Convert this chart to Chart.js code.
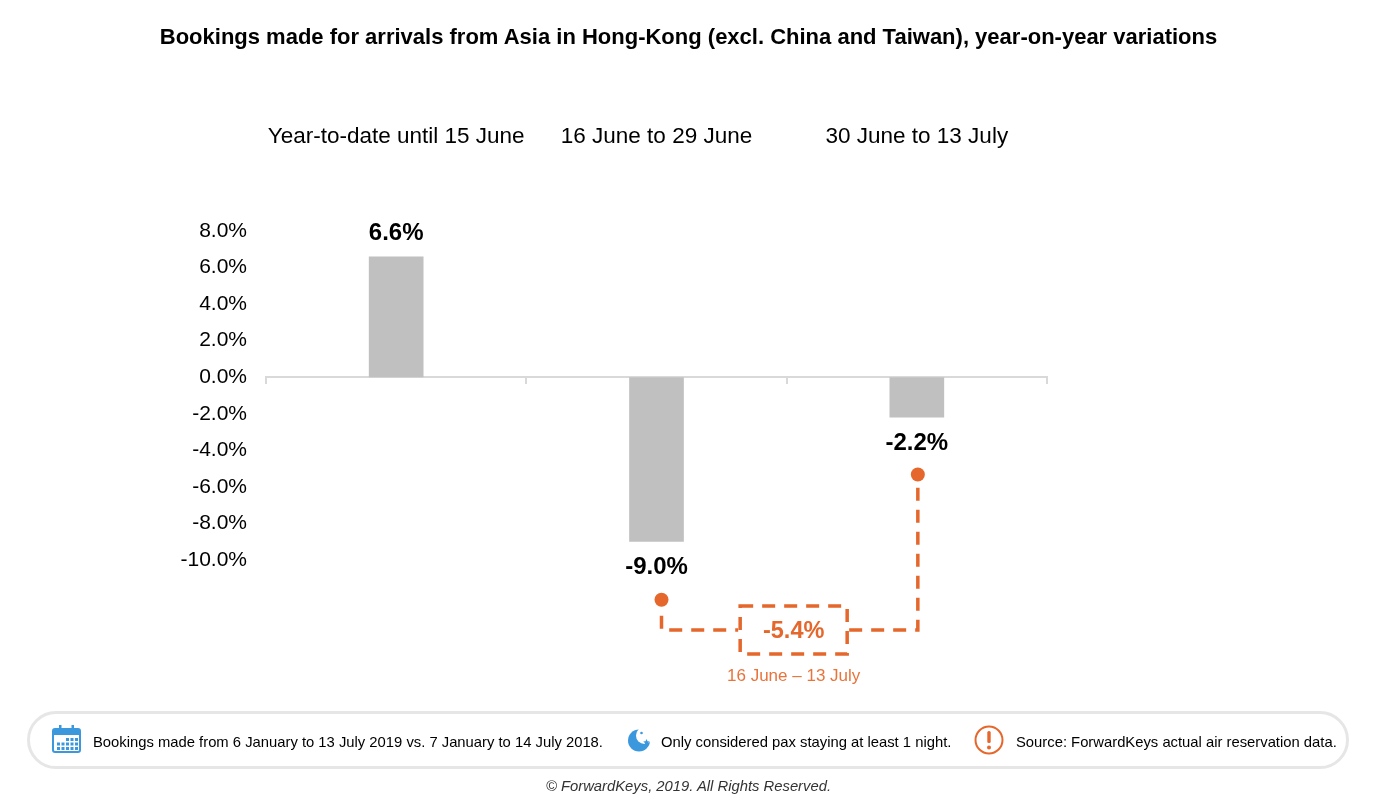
<!DOCTYPE html>
<html>
<head>
<meta charset="utf-8">
<script src="https://cdn.jsdelivr.net/npm/chart.js@4.4.1/dist/chart.umd.min.js"></script>
<style>
  html, body { margin: 0; padding: 0; background: #fff; }
  body { width: 1377px; height: 806px; position: relative; overflow: hidden; font-family: "Liberation Sans", Arial, sans-serif; }
  #chart { position: absolute; left: 0; top: 0; }
  .title { position: absolute; left: 0; width: 1377px; top: 24px; text-align: center; font-weight: bold; font-size: 22px; line-height: 26px; color: #000; }
  .head { position: absolute; top: 122px; font-size: 22.5px; line-height: 28px; color: #000; transform: translateX(-50%); white-space: nowrap; }
  .pill { position: absolute; left: 27px; top: 711px; width: 1316px; height: 52px; border: 3px solid #e6e6e6; border-radius: 30px; }
  .note { position: absolute; top: 733px; font-size: 14.8px; line-height: 18px; color: #000; white-space: nowrap; }
  .icon { position: absolute; }
  .copy { position: absolute; left: 0; width: 1377px; top: 777px; text-align: center; font-style: italic; font-size: 14.8px; line-height: 18px; color: #333; }
</style>
</head>
<body>
<canvas id="chart" width="1377" height="806"></canvas>
<div class="title">Bookings made for arrivals from Asia in Hong-Kong (excl. China and Taiwan), year-on-year variations</div>
<div id="heads"></div>

<div class="pill"></div>
<svg class="icon" style="left:52px;top:725px" width="29" height="28" viewBox="0 0 29 28">
  <rect x="1" y="4" width="27" height="23" rx="2" fill="#fff" stroke="#3b98dd" stroke-width="2"/>
  <rect x="1" y="4" width="27" height="6" fill="#3b98dd"/>
  <rect x="7" y="0" width="2.5" height="8" fill="#3b98dd"/>
  <rect x="19.5" y="0" width="2.5" height="8" fill="#3b98dd"/>
  <g fill="#3b98dd">
    <rect x="14" y="13" width="3" height="3"/><rect x="18.5" y="13" width="3" height="3"/><rect x="23" y="13" width="3" height="3"/>
    <rect x="5" y="17.5" width="3" height="3"/><rect x="9.5" y="17.5" width="3" height="3"/><rect x="14" y="17.5" width="3" height="3"/><rect x="18.5" y="17.5" width="3" height="3"/><rect x="23" y="17.5" width="3" height="3"/>
    <rect x="5" y="22" width="3" height="3"/><rect x="9.5" y="22" width="3" height="3"/><rect x="14" y="22" width="3" height="3"/><rect x="18.5" y="22" width="3" height="3"/><rect x="23" y="22" width="3" height="3"/>
  </g>
</svg>
<div class="note" style="left:93px">Bookings made from 6 January to 13 July 2019 vs. 7 January to 14 July 2018.</div>
<svg class="icon" style="left:627px;top:727px" width="26" height="26" viewBox="0 0 26 26">
  <circle cx="12" cy="13.5" r="11" fill="#3b98dd"/>
  <circle cx="17.5" cy="8.5" r="8.5" fill="#fff"/>
  <path d="M19.5 12 l1 2.2 2.3 .2 -1.8 1.5 .6 2.3 -2.1 -1.3 -2.1 1.3 .6 -2.3 -1.8 -1.5 2.3 -.2 Z" fill="#3b98dd"/>
  <circle cx="14.5" cy="6" r="1.3" fill="#3b98dd"/>
</svg>
<div class="note" style="left:661px">Only considered pax staying at least 1 night.</div>
<svg class="icon" style="left:974px;top:725px" width="30" height="30" viewBox="0 0 30 30">
  <circle cx="15" cy="15" r="13.5" fill="none" stroke="#e5672b" stroke-width="2"/>
  <rect x="13.3" y="6" width="3.4" height="12" rx="1.5" fill="#e5672b"/>
  <circle cx="15" cy="22.5" r="2" fill="#e5672b"/>
</svg>
<div class="note" style="left:1016px">Source: ForwardKeys actual air reservation data.</div>
<div class="copy">© ForwardKeys, 2019. All Rights Reserved.</div>

<script>
// chart values
const periods = ["Year-to-date until 15 June", "16 June to 29 June", "30 June to 13 July"];
const variations = [6.6, -9.0, -2.2];
const combinedValue = -5.4;
const combinedPeriod = "16 June \u2013 13 July";
const combinedFrom = 1;   // index of the periods joined by the dashed bracket
const combinedTo = 2;
const yMin = -10;
const yMax = 8;
const yStep = 2;

const orange = "#e5672b";

function pct(v) {
  return v.toFixed(1) + "%";
}

// category headers above the chart, centred on each category
const headsPlugin = {
  id: "heads",
  afterLayout(chart) {
    const box = document.getElementById("heads");
    box.innerHTML = "";
    const x = chart.scales.x;
    periods.forEach((p, i) => {
      const d = document.createElement("div");
      d.className = "head";
      d.style.left = x.getPixelForValue(i) + "px";
      d.textContent = p;
      box.appendChild(d);
    });
  }
};

const labelsPlugin = {
  id: "labels",
  afterDatasetsDraw(chart) {
    const ctx = chart.ctx;
    const meta = chart.getDatasetMeta(0);
    ctx.save();
    ctx.textAlign = "center";
    ctx.textBaseline = "middle";
    ctx.fillStyle = "#000";
    ctx.font = "bold 24px 'Liberation Sans', Arial, sans-serif";
    meta.data.forEach((bar, i) => {
      const v = variations[i];
      const y = v >= 0 ? bar.y - 23 : bar.y + 26;
      ctx.fillText(pct(v), bar.x, y);
    });

    // dashed bracket joining the two latest periods
    const a = meta.data[combinedFrom];
    const b = meta.data[combinedTo];
    const ax = a.x + 5, bx = b.x + 1;
    const dotA = a.y + 58;
    const dotB = b.y + 57;
    const lineY = chart.scales.y.getPixelForValue(yMin) + 70;
    const midX = (a.x + b.x) / 2 + 7;
    const boxW = 107, boxH = 48;

    ctx.fillStyle = orange;
    ctx.beginPath(); ctx.arc(ax, dotA, 7, 0, Math.PI * 2); ctx.fill();
    ctx.beginPath(); ctx.arc(bx, dotB, 7, 0, Math.PI * 2); ctx.fill();

    ctx.strokeStyle = orange;
    ctx.lineWidth = 3.5;
    ctx.setLineDash([13, 9]);
    ctx.beginPath();
    ctx.moveTo(ax, dotA + 16);
    ctx.lineTo(ax, lineY);
    ctx.lineTo(midX - boxW / 2 - 2, lineY);
    ctx.stroke();
    ctx.beginPath();
    ctx.moveTo(midX + boxW / 2 + 2, lineY);
    ctx.lineTo(bx, lineY);
    ctx.lineTo(bx, dotB + 12);
    ctx.stroke();
    ctx.strokeRect(midX - boxW / 2, lineY - boxH / 2, boxW, boxH);
    ctx.setLineDash([]);

    ctx.font = "bold 23.5px 'Liberation Sans', Arial, sans-serif";
    ctx.fillText(pct(combinedValue), midX, lineY + 2);
    ctx.font = "17px 'Liberation Sans', Arial, sans-serif";
    ctx.fillStyle = "#e8743c";
    ctx.fillText(combinedPeriod, midX, lineY + 46);
    ctx.restore();
  }
};

new Chart(document.getElementById("chart"), {
  type: "bar",
  data: {
    labels: periods,
    datasets: [{
      data: variations,
      backgroundColor: "#c0c0c0",
      borderWidth: 0,
      barPercentage: 0.21,
      categoryPercentage: 1
    }]
  },
  options: {
    responsive: false,
    animation: false,
    events: [],
    layout: { padding: { left: 176, right: 330, top: 231, bottom: 246 } },
    plugins: { legend: { display: false }, tooltip: { enabled: false } },
    scales: {
      x: {
        position: { y: 0 },
        grid: { offset: true, drawOnChartArea: false, drawTicks: true, tickLength: 6, color: "#d9d9d9", lineWidth: 2 },
        border: { color: "#d9d9d9", width: 2 },
        ticks: { display: false }
      },
      y: {
        min: yMin,
        max: yMax,
        afterFit(s) { s.width = 90; },
        grid: { display: false, drawTicks: false },
        border: { display: false },
        ticks: {
          stepSize: yStep,
          padding: 19,
          color: "#000",
          font: { family: "'Liberation Sans', Arial, sans-serif", size: 21 },
          callback: (v) => pct(v)
        }
      }
    }
  },
  plugins: [headsPlugin, labelsPlugin]
});
</script>
</body>
</html>
